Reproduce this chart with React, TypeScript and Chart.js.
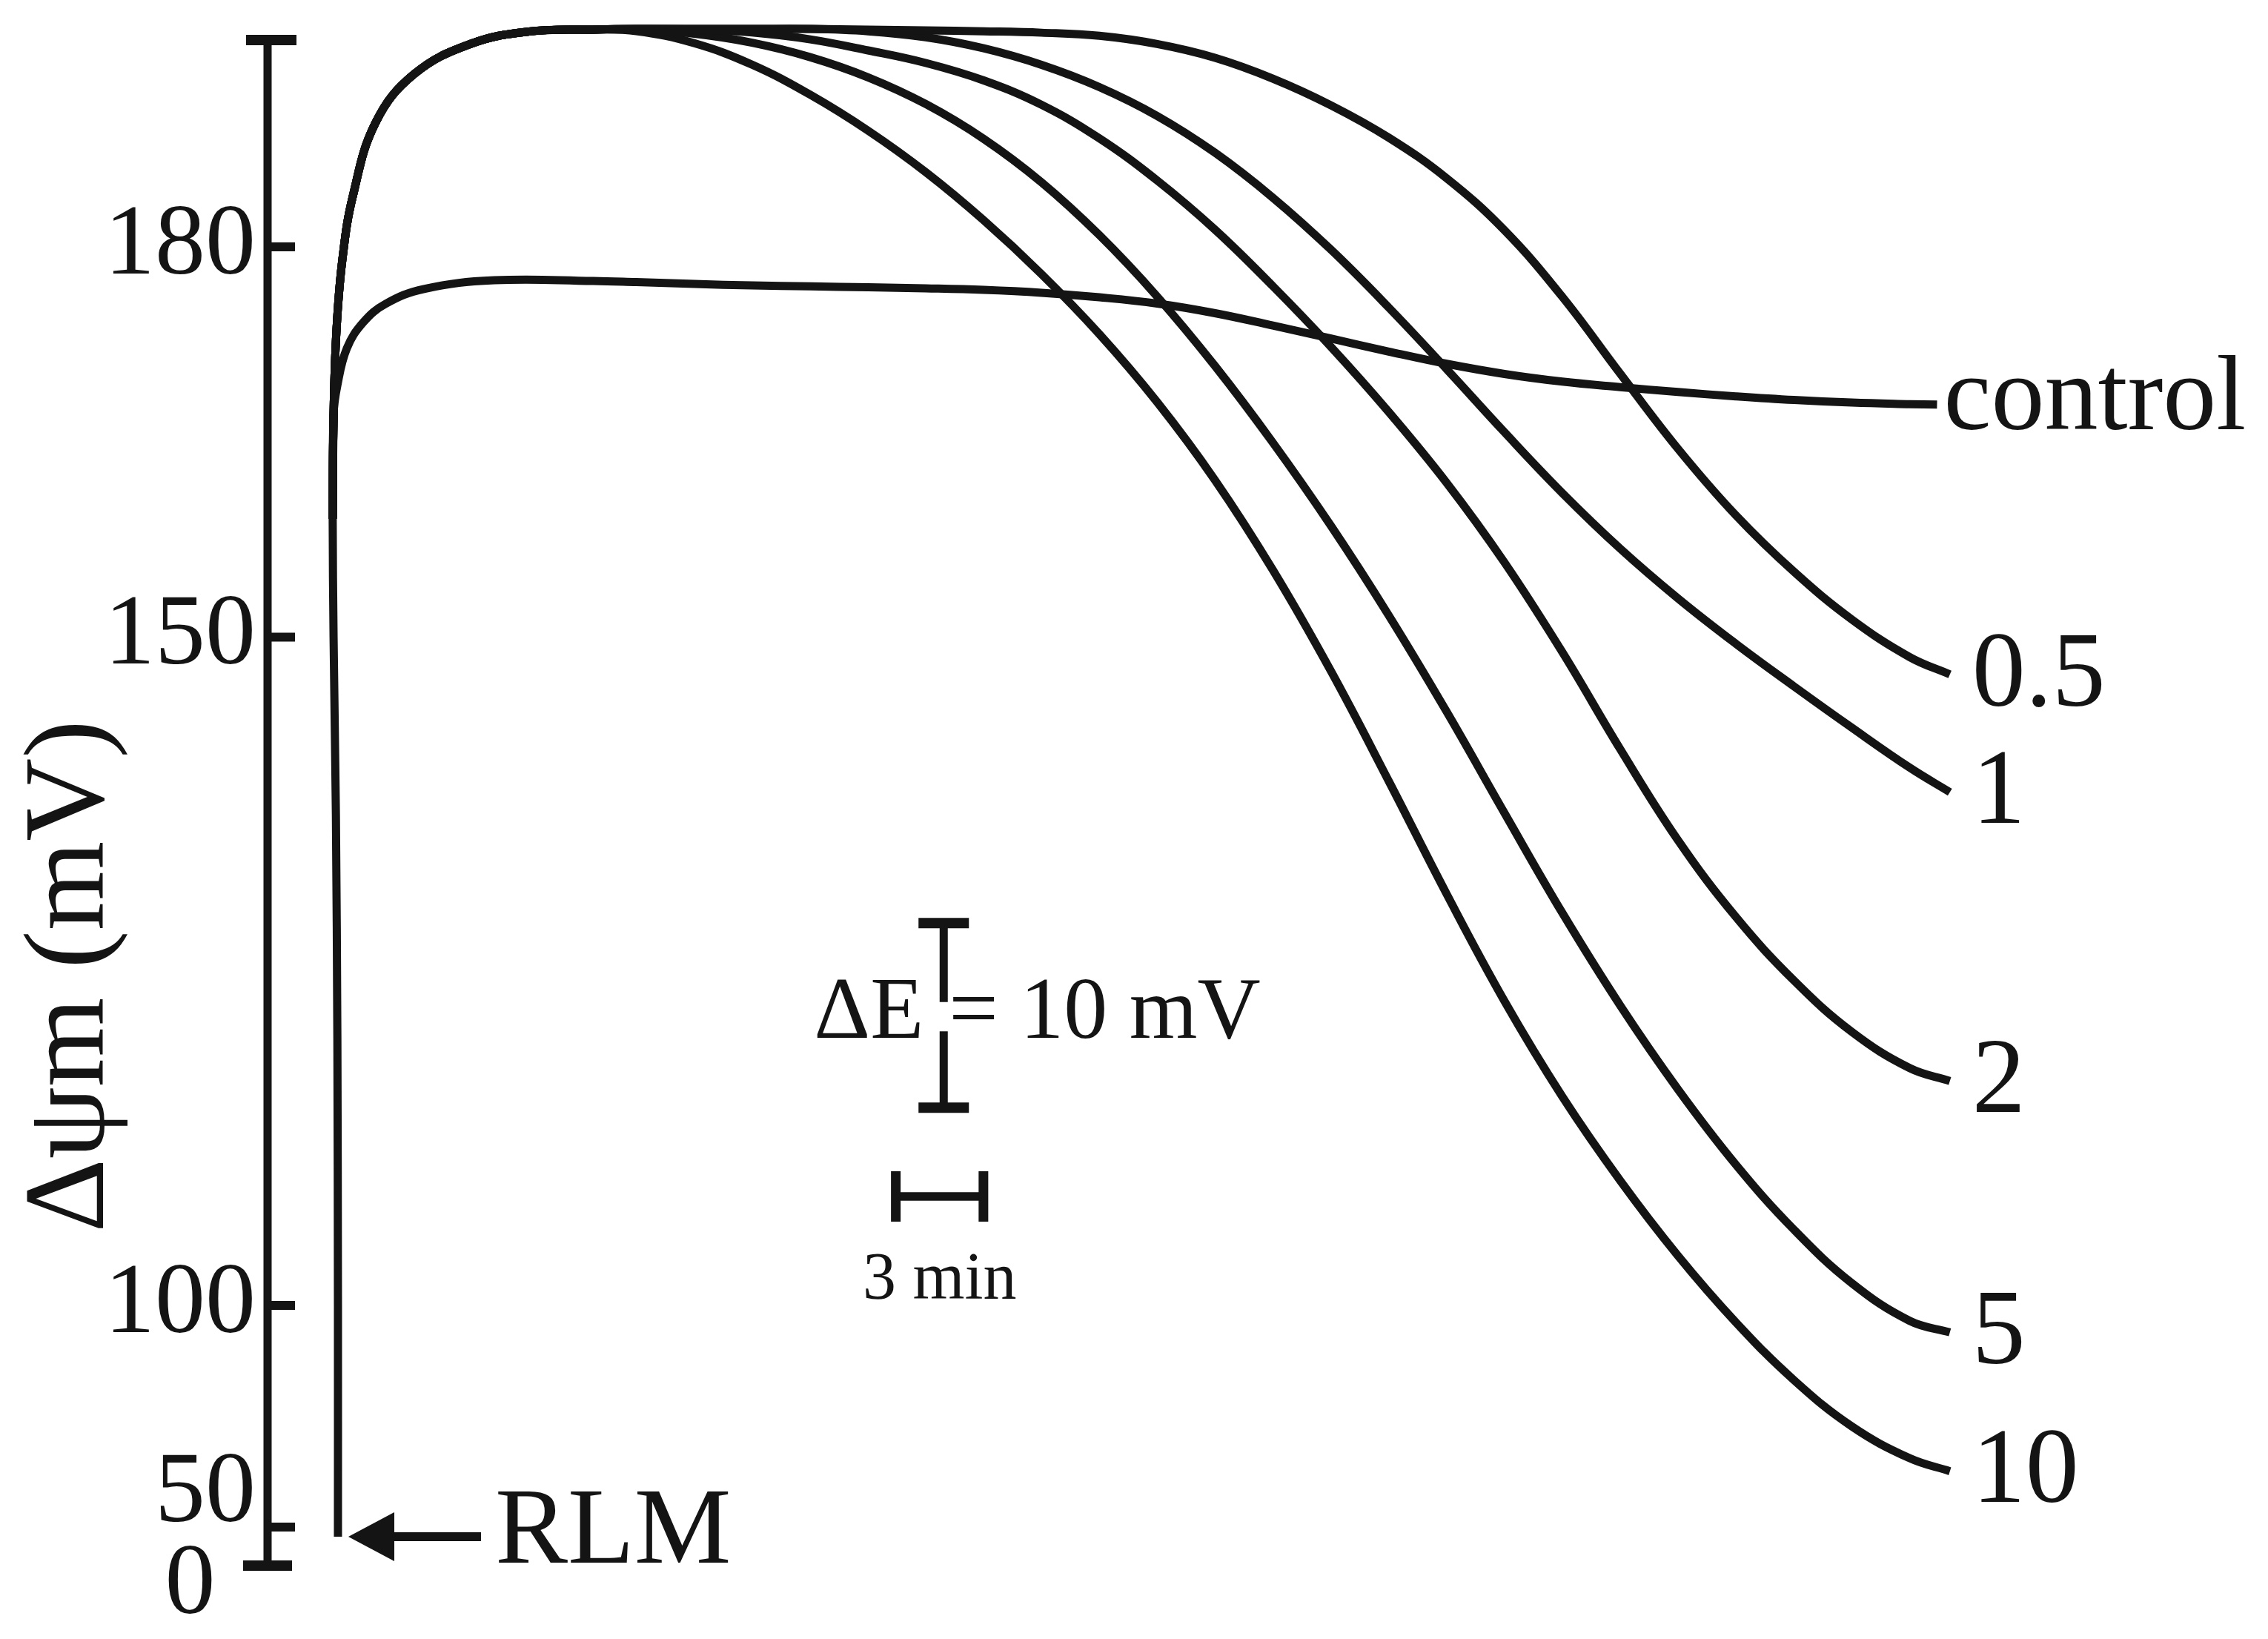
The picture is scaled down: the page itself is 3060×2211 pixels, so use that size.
import React, { useEffect, useRef } from "react";
import { Chart, registerables } from "chart.js";

Chart.register(...registerables);

// ---------- data (time in min, membrane potential in mV) ----------
const SERIES_NAMES = ["control", "0.5", "1", "2", "5", "10"];

// shared vertical rise after RLM addition
const TRUNK_T = [2.41, 2.41, 2.39, 2.34, 2.26, 2.23, 2.26];
const TRUNK_MV = [37.5, 100, 120.0, 136.7, 150, 159.1, 167.1];

// shared overshoot to the plateau (treated samples)
const RISE_T = [2.36, 2.56, 2.92, 3.71, 5.03, 6.95, 8.96, 11.14];
const RISE_MV = [173.6, 179.0, 183.9, 189.6, 193.3, 195.6, 196.55, 196.7];

// sampling times of the treated traces after the plateau
const GRID_T = [12.63, 14.61, 16.59, 18.58, 20.56, 22.54, 24.52, 26.5, 28.48, 30.46, 32.44, 34.42, 36.41, 38.39, 40.37, 42.35, 44.33, 46.31, 48.29, 50.27, 52.26, 54.24, 56.22, 57.6];

const C05_MV = [196.75, 196.75, 196.75, 196.75, 196.69, 196.64, 196.57, 196.46, 196.22, 195.59, 194.53, 192.93, 190.88, 188.39, 185.27, 181.27, 176.16, 170.26, 164.48, 159.37, 155.03, 151.36, 148.51, 147.21];
const C1_MV = [196.75, 196.75, 196.75, 196.75, 196.57, 196.11, 195.26, 193.99, 192.28, 190.06, 187.23, 183.78, 179.78, 175.33, 170.6, 165.75, 161.08, 156.81, 152.98, 149.51, 146.32, 143.23, 140.24, 138.4];
const C2_MV = [196.75, 196.71, 196.48, 195.95, 195.1, 194.13, 192.79, 190.92, 188.34, 185.1, 181.32, 176.98, 172.31, 167.3, 161.86, 155.74, 148.88, 141.63, 134.81, 129.07, 124.31, 120.47, 117.76, 116.79];
const C5_MV = [196.69, 196.38, 195.69, 194.58, 193.03, 190.97, 188.3, 184.96, 180.9, 176.18, 170.84, 164.95, 158.55, 151.66, 144.42, 136.84, 129.37, 122.45, 116.17, 110.54, 105.67, 101.67, 96.53, 93.92];
const C10_MV = [196.58, 195.65, 194.0, 191.69, 188.93, 185.73, 182.04, 177.9, 173.29, 168.06, 162.06, 155.16, 147.45, 139.22, 130.78, 122.77, 115.63, 109.35, 103.72, 96.21, 83.15, 72.71, 65.53, 62.59];

// control trace (branches off the rise)
const CONTROL_T = [2.388, 2.715, 3.275, 4.037, 5.355, 7.767, 11.145, 12.63, 14.61, 16.59, 18.58, 20.56, 22.54, 24.52, 26.5, 28.48, 30.46, 32.44, 34.42, 36.41, 38.39, 40.37, 42.35, 44.33, 46.31, 48.29, 50.27, 52.26, 54.24, 56.22, 57.16];
const CONTROL_MV = [169.34, 172.2, 174.19, 175.61, 176.76, 177.43, 177.38, 177.29, 177.15, 177.03, 176.96, 176.89, 176.81, 176.69, 176.47, 176.12, 175.64, 174.9, 173.95, 172.95, 171.95, 171.01, 170.23, 169.64, 169.22, 168.84, 168.51, 168.23, 168.03, 167.91, 167.87];

const TREATED_MV = [C05_MV, C1_MV, C2_MV, C5_MV, C10_MV];

// axis ticks
const TICK_MV = [0, 50, 100, 150, 180];
const TICK_LABELS = ["0", "50", "100", "150", "180"];
const AXIS_TOP_MV = 195.9;

// scale bars / annotations
const Y_TITLE = "Δψm (mV)";
const RLM_LABEL = "RLM";
const DE_BAR_T = 23.15;
const DE_BAR_MV = [128.6, 122.7, 120.5, 114.8];
const DE_TEXT_MV = 120.0;
const DE_LEFT = "ΔE";
const DE_RIGHT = "= 10 mV";
const TIME_BAR_T = [21.51, 24.51];
const TIME_BAR_MV = 108.15;
const TIME_LABEL = "3 min";

// ---------- broken axis geometry (display units) ----------
const BREAK_MV = [0, 50, 100, 150, 180];
const BREAK_D = [0, 52, 351, 1252.5, 1779];
const TOP_SLOPE = 17.55;

function toD(v: number): number {
  const n = BREAK_MV.length;
  if (v >= BREAK_MV[n - 1]) return BREAK_D[n - 1] + (v - BREAK_MV[n - 1]) * TOP_SLOPE;
  for (let i = 1; i < n; i++) {
    if (v <= BREAK_MV[i]) {
      const f = (v - BREAK_MV[i - 1]) / (BREAK_MV[i] - BREAK_MV[i - 1]);
      return BREAK_D[i - 1] + f * (BREAK_D[i] - BREAK_D[i - 1]);
    }
  }
  return 0;
}

const INK = "#141414";
const SERIF = "'Liberation Serif', 'Times New Roman', serif";

function seg(ctx: CanvasRenderingContext2D, x1: number, y1: number, x2: number, y2: number) {
  ctx.beginPath();
  ctx.moveTo(x1, y1);
  ctx.lineTo(x2, y2);
  ctx.stroke();
}

const decorPlugin = {
  id: "decor",
  afterDatasetsDraw(chart: any) {
    const { ctx, chartArea, scales } = chart;
    const xs = scales.x;
    const ys = scales.y;
    const ax = chartArea.left;
    const py = (mv: number) => ys.getPixelForValue(toD(mv));
    ctx.save();
    ctx.strokeStyle = INK;
    ctx.fillStyle = INK;
    ctx.lineCap = "butt";

    // axis line with caps and inward ticks
    const yTop = py(AXIS_TOP_MV);
    const y0 = ys.getPixelForTick(0);
    ctx.lineWidth = 11;
    seg(ctx, ax, yTop - 7, ax, y0 + 7);
    ctx.lineWidth = 14;
    seg(ctx, ax - 29, yTop, ax + 39, yTop);
    seg(ctx, ax - 33, y0, ax + 33, y0);
    ctx.lineWidth = 12;
    for (let i = 1; i < ys.ticks.length; i++) {
      const ty = ys.getPixelForTick(i);
      seg(ctx, ax, ty, ax + 37, ty);
    }

    // y title
    ctx.save();
    ctx.translate(139, 1317);
    ctx.rotate(-Math.PI / 2);
    ctx.font = `155px ${SERIF}`;
    ctx.textAlign = "center";
    ctx.textBaseline = "alphabetic";
    ctx.fillText(Y_TITLE, 0, 0);
    ctx.restore();

    // series end labels (datasets 1..6)
    ctx.font = `144px ${SERIF}`;
    ctx.textAlign = "left";
    ctx.textBaseline = "alphabetic";
    SERIES_NAMES.forEach((name, i) => {
      const meta = chart.getDatasetMeta(i + 1);
      const last = meta.data[meta.data.length - 1];
      const numeric = /^[0-9.]+$/.test(name);
      const dx = numeric ? 30 : 9;
      const dy = numeric ? 0.29 * 144 : 0.23 * 144;
      ctx.fillText(name, last.x + dx, last.y + dy);
    });

    // RLM arrow at the start of the trace
    const first = chart.getDatasetMeta(0).data[0];
    const tipX = first.x + 14;
    const ay = first.y;
    ctx.lineWidth = 12;
    seg(ctx, tipX + 55, ay, tipX + 179, ay);
    ctx.beginPath();
    ctx.moveTo(tipX, ay);
    ctx.lineTo(tipX + 62, ay - 33);
    ctx.lineTo(tipX + 62, ay + 33);
    ctx.closePath();
    ctx.fill();
    ctx.font = `147px ${SERIF}`;
    ctx.fillText(RLM_LABEL, tipX + 198, ay + 35);

    // ΔE scale bar
    const bx = xs.getPixelForValue(DE_BAR_T);
    const b0 = py(DE_BAR_MV[0]);
    const b1 = py(DE_BAR_MV[1]);
    const b2 = py(DE_BAR_MV[2]);
    const b3 = py(DE_BAR_MV[3]);
    ctx.lineWidth = 11;
    seg(ctx, bx, b0, bx, b1);
    seg(ctx, bx, b2, bx, b3);
    ctx.lineWidth = 14;
    seg(ctx, bx - 34, b0, bx + 34, b0);
    seg(ctx, bx - 34, b3, bx + 34, b3);
    const ty = py(DE_TEXT_MV);
    ctx.font = `118px ${SERIF}`;
    ctx.textAlign = "right";
    ctx.fillText(DE_LEFT, bx - 27, ty);
    ctx.textAlign = "left";
    ctx.fillText(DE_RIGHT, bx + 7, ty);

    // time scale bar
    const tx1 = xs.getPixelForValue(TIME_BAR_T[0]);
    const tx2 = xs.getPixelForValue(TIME_BAR_T[1]);
    const tyb = py(TIME_BAR_MV);
    ctx.lineWidth = 11.5;
    seg(ctx, tx1, tyb, tx2, tyb);
    ctx.lineWidth = 13;
    seg(ctx, tx1, tyb - 34, tx1, tyb + 34);
    seg(ctx, tx2, tyb - 34, tx2, tyb + 34);
    ctx.font = `90px ${SERIF}`;
    ctx.textAlign = "center";
    ctx.fillText(TIME_LABEL, (tx1 + tx2) / 2, tyb + 138);

    ctx.restore();
  },
};

const LINE_STYLE = {
  borderColor: INK,
  backgroundColor: INK,
  borderWidth: 11,
  pointRadius: 0,
  pointHoverRadius: 0,
  fill: false,
  borderJoinStyle: "round" as const,
  clip: false as const,
};

function buildDatasets() {
  const trunk = TRUNK_T.map((t, k) => ({ x: t, y: toD(TRUNK_MV[k]) }));
  const n = trunk.length;
  const lead = [trunk[n - 2], trunk[n - 1]].map((p) => ({ x: p.x, y: p.y }));
  const sets: any[] = [{ ...LINE_STYLE, label: "trace", data: trunk, tension: 0.3 }];
  // control
  const ctrl = [...lead.map((p) => ({ ...p })), ...CONTROL_T.map((t, k) => ({ x: t, y: toD(CONTROL_MV[k]) }))];
  sets.push({ ...LINE_STYLE, label: SERIES_NAMES[0], data: ctrl, tension: 0.4 });
  // treated
  TREATED_MV.forEach((vals, i) => {
    const pts = lead.map((p) => ({ ...p }));
    RISE_T.forEach((t, k) => pts.push({ x: t, y: toD(RISE_MV[k]) }));
    GRID_T.forEach((t, k) => pts.push({ x: t, y: toD(vals[k]) }));
    sets.push({ ...LINE_STYLE, label: SERIES_NAMES[i + 1], data: pts, tension: 0.4 });
  });
  return sets;
}

export default function App() {
  const ref = useRef<HTMLCanvasElement | null>(null);

  useEffect(() => {
    if (!ref.current) return;
    const chart = new Chart(ref.current, {
      type: "line",
      data: { datasets: buildDatasets() },
      options: {
        animation: false,
        responsive: false,
        devicePixelRatio: 1,
        layout: { padding: { top: 20, bottom: 72, left: 0, right: 177 }, autoPadding: false },
        plugins: { legend: { display: false }, tooltip: { enabled: false }, title: { display: false } },
        scales: {
          x: { type: "linear", min: 0, max: 64, display: false },
          y: {
            type: "linear",
            min: -27,
            max: 2092,
            bounds: "data",
            grid: { display: false, drawTicks: false },
            border: { display: false },
            afterFit: (scale: any) => {
              scale.width = 361;
            },
            afterBuildTicks: (scale: any) => {
              scale.ticks = TICK_MV.map((v) => ({ value: toD(v) }));
            },
            ticks: {
              autoSkip: false,
              padding: 16,
              color: INK,
              font: (c: any) => ({
                family: SERIF,
                size: 136,
                lineHeight: c.index === 0 ? 0.412 : c.index === 1 ? 0.647 : c.index === 4 ? 0.03 : 1.2,
              }),
              callback: (_v: any, index: number) => {
                const lab = TICK_LABELS[index];
                if (index === 0) return ["", lab + "\u2009\u2009"];
                if (index === 1) return [lab, ""];
                return lab;
              },
            },
          },
        },
      },
      plugins: [decorPlugin],
    });
    return () => chart.destroy();
  }, []);

  return (
    <div style={{ position: "absolute", left: 0, top: 0, width: 3060, height: 2211, background: "#fff" }}>
      <canvas ref={ref} width={3060} height={2211} style={{ display: "block" }} />
    </div>
  );
}
